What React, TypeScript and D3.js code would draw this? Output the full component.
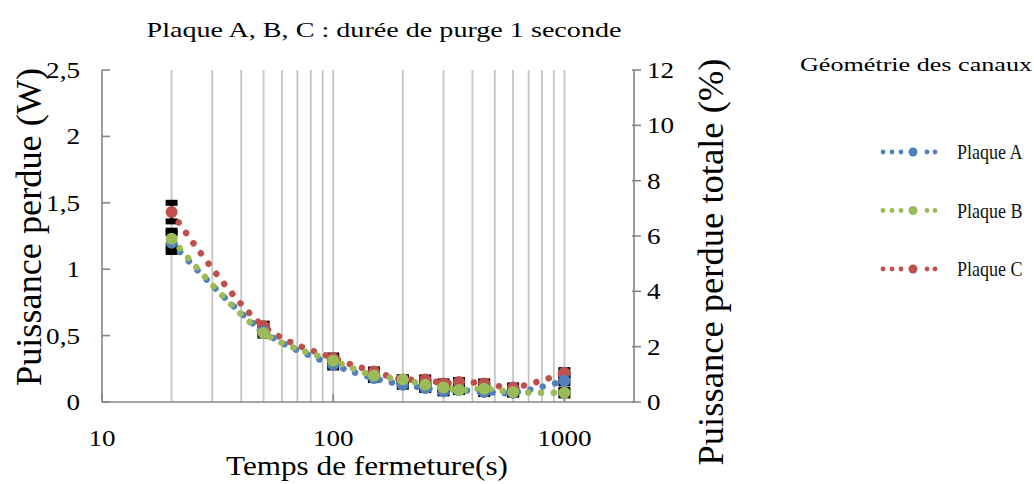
import React from "react";
import * as d3 from "d3";

// closing times (s) of the measured points
const times = [20, 50, 100, 150, 200, 250, 300, 350, 450, 600, 1000];

// lost power (W) per plate
const plaqueA = [1.2, 0.53, 0.28, 0.18, 0.13, 0.105, 0.08, 0.09, 0.075, 0.07, 0.16];
const plaqueB = [1.23, 0.52, 0.31, 0.2, 0.17, 0.13, 0.11, 0.09, 0.1, 0.075, 0.07];
const plaqueC = [1.43, 0.57, 0.33, 0.23, 0.17, 0.17, 0.14, 0.15, 0.14, 0.11, 0.22];

// error bar half widths (W)
const errA = [0.07, 0.02, 0.02, 0.015, 0.015, 0.015, 0.015, 0.015, 0.015, 0.015, 0.02];
const errB = [0.06, 0.02, 0.02, 0.015, 0.015, 0.015, 0.015, 0.015, 0.015, 0.015, 0.02];
const errC = [0.07, 0.02, 0.02, 0.015, 0.015, 0.015, 0.015, 0.015, 0.015, 0.015, 0.02];

const xTickLabels = [10, 100, 1000];
const yTicks = [0, 0.5, 1, 1.5, 2, 2.5];
const y2Ticks = [0, 2, 4, 6, 8, 10, 12];

const seriesNames = ["Plaque A", "Plaque B", "Plaque C"];
const seriesColors = ["#4f81bd", "#9bbb59", "#c0504d"];

const W = 1034;
const H = 484;
const left = 102;
const right = 634;
const top = 70;
const bottom = 402;
const font = "'Liberation Serif', 'Times New Roman', serif";

export default function App() {
  const x = d3.scaleLog().domain([10, 2000]).range([left, right]);
  const y = d3.scaleLinear().domain([0, 2.5]).range([bottom, top]);
  const y2 = d3.scaleLinear().domain([0, 12]).range([bottom, top]);

  const gridTimes = x.ticks().filter((t) => t > 10 && t <= 1000);

  const series = [
    { name: seriesNames[0], color: seriesColors[0], values: plaqueA, err: errA },
    { name: seriesNames[1], color: seriesColors[1], values: plaqueB, err: errB },
    { name: seriesNames[2], color: seriesColors[2], values: plaqueC, err: errC },
  ];
  // red drawn first, green on top
  const drawOrder = [series[2], series[0], series[1]];

  const line = d3
    .line<number>()
    .x((_, i) => x(times[i]))
    .y((d) => y(d))
    .curve(d3.curveCatmullRom);

  const fmt = (v: number) => String(v).replace(".", ",");
  const axisColor = "#868686";

  return (
    <svg
      width={W}
      height={H}
      style={{ position: "absolute", left: 0, top: 0, background: "#fff" }}
      fontFamily={font}
    >
      {/* vertical grid */}
      {gridTimes.map((t) => (
        <line key={t} x1={x(t)} x2={x(t)} y1={top} y2={bottom} stroke="#c4c4c4" strokeWidth={1.8} />
      ))}

      {/* axes */}
      <line x1={left} x2={left} y1={top} y2={bottom} stroke={axisColor} strokeWidth={1.6} />
      <line x1={right} x2={right} y1={top} y2={bottom} stroke={axisColor} strokeWidth={1.6} />
      <line x1={left} x2={right} y1={bottom} y2={bottom} stroke={axisColor} strokeWidth={1.6} />
      {yTicks.map((v) => (
        <line key={v} x1={left} x2={left + 8} y1={y(v)} y2={y(v)} stroke={axisColor} strokeWidth={1.6} />
      ))}
      {y2Ticks.map((v) => (
        <line key={v} x1={right - 2} x2={right + 7} y1={y2(v)} y2={y2(v)} stroke={axisColor} strokeWidth={1.6} />
      ))}
      {xTickLabels.map((t) => (
        <line key={t} x1={x(t)} x2={x(t)} y1={bottom} y2={bottom - 8} stroke={axisColor} strokeWidth={1.6} />
      ))}

      {/* tick labels */}
      {yTicks.map((v) => (
        <text
          key={v}
          transform={`translate(80,${y(v) + 8}) scale(1.18,1)`}
          textAnchor="end"
          fontSize={23}
          fill="#000"
        >
          {fmt(v)}
        </text>
      ))}
      {y2Ticks.map((v) => (
        <text key={v} transform={`translate(647,${y2(v) + 8}) scale(1.18,1)`} fontSize={23} fill="#000">
          {v}
        </text>
      ))}
      {xTickLabels.map((t) => (
        <text
          key={t}
          transform={`translate(${x(t)},${446}) scale(1.18,1)`}
          textAnchor="middle"
          fontSize={23}
          fill="#000"
        >
          {t}
        </text>
      ))}

      {/* titles */}
      <text x={384} y={37} textAnchor="middle" fontSize={22} textLength={475} lengthAdjust="spacingAndGlyphs">
        Plaque A, B, C : durée de purge 1 seconde
      </text>
      <text x={367} y={475} textAnchor="middle" fontSize={28} textLength={282} lengthAdjust="spacingAndGlyphs">
        Temps de fermeture(s)
      </text>
      <text
        transform={`translate(41,${227}) scale(1.2,1) rotate(-90)`}
        textAnchor="middle"
        fontSize={29}
        textLength={318}
        lengthAdjust="spacingAndGlyphs"
      >
        Puissance perdue (W)
      </text>
      <text
        transform={`translate(723,${262}) scale(1.2,1) rotate(-90)`}
        textAnchor="middle"
        fontSize={29}
        textLength={407}
        lengthAdjust="spacingAndGlyphs"
      >
        Puissance perdue totale (%)
      </text>

      {/* error bars */}
      {drawOrder.map((s) =>
        s.values.map((v, i) => {
          const cx = x(times[i]);
          const y1 = y(v + s.err[i]);
          const y0 = y(v - s.err[i]);
          return (
            <g key={s.name + i}>
              <line x1={cx} x2={cx} y1={y1} y2={y0} stroke="#000" strokeWidth={3} />
              <rect x={cx - 6} y={y1 - 3} width={12} height={6} fill="#000" />
              <rect x={cx - 6} y={y0 - 3} width={12} height={6} fill="#000" />
            </g>
          );
        })
      )}

      {/* dotted connecting lines */}
      {drawOrder.map((s) => (
        <path
          key={s.name}
          d={line(s.values) || ""}
          fill="none"
          stroke={s.color}
          strokeWidth={6.5}
          strokeLinecap="round"
          strokeDasharray="0.1 12.6"
        />
      ))}

      {/* markers */}
      {drawOrder.map((s) =>
        s.values.map((v, i) => (
          <circle key={s.name + i} cx={x(times[i])} cy={y(v)} r={6} fill={s.color} />
        ))
      )}

      {/* legend */}
      <text x={800} y={71} fontSize={19} textLength={232} lengthAdjust="spacingAndGlyphs">
        Géométrie des canaux
      </text>
      {series.map((s, i) => {
        const ly = 152 + i * 58.5;
        const dots = [883, 892, 901, 927, 935];
        return (
          <g key={s.name}>
            {dots.map((dx) => (
              <circle key={dx} cx={dx} cy={ly} r={2.4} fill={s.color} />
            ))}
            <circle cx={913} cy={ly} r={4.5} fill={s.color} />
            <text
              transform={`translate(957,${ly + 7}) scale(0.82,1)`}
              fontSize={22}
              fill="#111"
            >
              {s.name}
            </text>
          </g>
        );
      })}
    </svg>
  );
}
